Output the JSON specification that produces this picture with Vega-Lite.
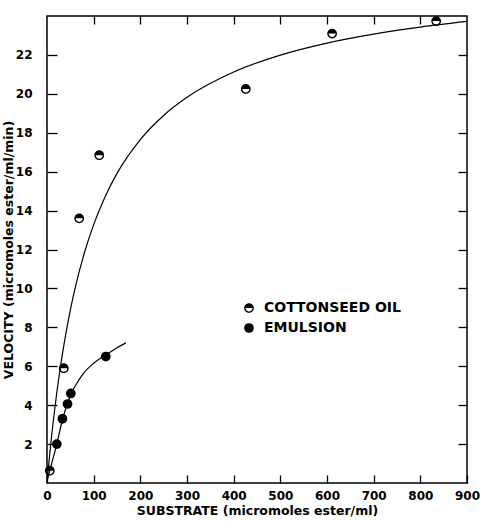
{
  "$schema": "https://vega.github.io/schema/vega-lite/v6.json",
  "width": 420,
  "height": 467,
  "autosize": {"type": "none"},
  "padding": {"left": 47, "top": 16, "right": 16, "bottom": 39},
  "background": "white",
  "config": {
    "view": {"stroke": "black", "strokeWidth": 1.5},
    "font": "DejaVu Sans",
    "axis": {
      "grid": false,
      "domain": false,
      "tickColor": "black",
      "tickWidth": 1.3,
      "labelColor": "black",
      "labelFontWeight": "bold",
      "labelFontSize": 12,
      "titleColor": "black",
      "titleFontWeight": "bold",
      "titleFontSize": 12.5
    }
  },
  "datasets": {
    "curves": [
      {"series": "cottonseed", "S": 0, "V": 0},
      {"series": "cottonseed", "S": 5, "V": 1.28},
      {"series": "cottonseed", "S": 10, "V": 2.44},
      {"series": "cottonseed", "S": 20, "V": 4.46},
      {"series": "cottonseed", "S": 30, "V": 6.16},
      {"series": "cottonseed", "S": 40, "V": 7.62},
      {"series": "cottonseed", "S": 50, "V": 8.89},
      {"series": "cottonseed", "S": 60, "V": 9.99},
      {"series": "cottonseed", "S": 80, "V": 11.82},
      {"series": "cottonseed", "S": 100, "V": 13.28},
      {"series": "cottonseed", "S": 125, "V": 14.74},
      {"series": "cottonseed", "S": 150, "V": 15.91},
      {"series": "cottonseed", "S": 200, "V": 17.65},
      {"series": "cottonseed", "S": 250, "V": 18.89},
      {"series": "cottonseed", "S": 300, "V": 19.82},
      {"series": "cottonseed", "S": 400, "V": 21.12},
      {"series": "cottonseed", "S": 500, "V": 21.99},
      {"series": "cottonseed", "S": 600, "V": 22.61},
      {"series": "cottonseed", "S": 700, "V": 23.07},
      {"series": "cottonseed", "S": 800, "V": 23.43},
      {"series": "cottonseed", "S": 900, "V": 23.72},
      {"series": "emulsion", "S": 0, "V": 0.1},
      {"series": "emulsion", "S": 10, "V": 1.0},
      {"series": "emulsion", "S": 21, "V": 2.0},
      {"series": "emulsion", "S": 33, "V": 3.25},
      {"series": "emulsion", "S": 44, "V": 4.1},
      {"series": "emulsion", "S": 51, "V": 4.55},
      {"series": "emulsion", "S": 62, "V": 5.05},
      {"series": "emulsion", "S": 77, "V": 5.6},
      {"series": "emulsion", "S": 100, "V": 6.15},
      {"series": "emulsion", "S": 126, "V": 6.58},
      {"series": "emulsion", "S": 150, "V": 6.95},
      {"series": "emulsion", "S": 169, "V": 7.2}
    ],
    "points": [
      {"series": "COTTONSEED OIL", "S": 6, "V": 0.63},
      {"series": "COTTONSEED OIL", "S": 36, "V": 5.9},
      {"series": "COTTONSEED OIL", "S": 69, "V": 13.6},
      {"series": "COTTONSEED OIL", "S": 112, "V": 16.85},
      {"series": "COTTONSEED OIL", "S": 426, "V": 20.25},
      {"series": "COTTONSEED OIL", "S": 611, "V": 23.1},
      {"series": "COTTONSEED OIL", "S": 834, "V": 23.74},
      {"series": "EMULSION", "S": 21, "V": 2.0},
      {"series": "EMULSION", "S": 33, "V": 3.3},
      {"series": "EMULSION", "S": 44, "V": 4.06},
      {"series": "EMULSION", "S": 51, "V": 4.6},
      {"series": "EMULSION", "S": 126, "V": 6.5}
    ]
  },
  "layer": [
    {
      "data": {"name": "curves"},
      "mark": {"type": "line", "color": "black", "strokeWidth": 1.2, "clip": true, "interpolate": "monotone"},
      "encoding": {
        "x": {
          "field": "S", "type": "quantitative",
          "scale": {"domain": [0, 900], "nice": false, "zero": true},
          "axis": {
            "orient": "bottom",
            "values": [0, 100, 200, 300, 400, 500, 600, 700, 800, 900],
            "offset": -8,
            "tickSize": 8,
            "labelPadding": 7,
            "labelFlush": false,
            "labelOverlap": false,
            "title": "SUBSTRATE (micromoles ester/ml)",
            "titlePadding": 3
          }
        },
        "y": {
          "field": "V", "type": "quantitative",
          "scale": {"domain": [0, 24], "nice": false},
          "axis": {
            "orient": "left",
            "values": [2, 4, 6, 8, 10, 12, 14, 16, 18, 20, 22],
            "offset": -10,
            "tickSize": 10,
            "labelPadding": 15,
            "title": "VELOCITY (micromoles ester/ml/min)",
            "titlePadding": 0
          }
        },
        "detail": {"field": "series"}
      }
    },
    {
      "data": {"name": "points"},
      "mark": {"type": "point", "filled": true, "color": "black", "opacity": 1, "size": 95},
      "encoding": {
        "x": {
          "field": "S", "type": "quantitative",
          "axis": {
            "orient": "top",
            "values": [100, 200, 300, 400, 500, 600, 700, 800],
            "offset": -8,
            "tickSize": 8,
            "labels": false,
            "title": null
          }
        },
        "y": {
          "field": "V", "type": "quantitative",
          "axis": {
            "orient": "right",
            "values": [2, 4, 6, 8, 10, 12, 14, 16, 18, 20, 22],
            "offset": -9,
            "tickSize": 9,
            "labels": false,
            "title": null
          }
        },
        "shape": {
          "field": "series", "type": "nominal",
          "scale": {
            "domain": ["COTTONSEED OIL", "EMULSION"],
            "range": ["M -1 0 A 1 1 0 0 1 1 0 A 1 1 0 0 1 -1 0 L -0.72 0 A 0.72 0.72 0 0 0 0.72 0 Z", "circle"]
          },
          "legend": {
            "title": null,
            "orient": "none",
            "legendX": 195,
            "legendY": 285,
            "symbolSize": 95,
            "symbolFillColor": "black",
            "symbolStrokeWidth": 0,
            "symbolOpacity": 1,
            "labelFontSize": 14,
            "labelFontWeight": "bold",
            "labelColor": "black",
            "labelOffset": 8,
            "rowPadding": 6,
            "padding": 0
          }
        }
      }
    }
  ],
  "resolve": {"axis": {"x": "independent", "y": "independent"}}
}
